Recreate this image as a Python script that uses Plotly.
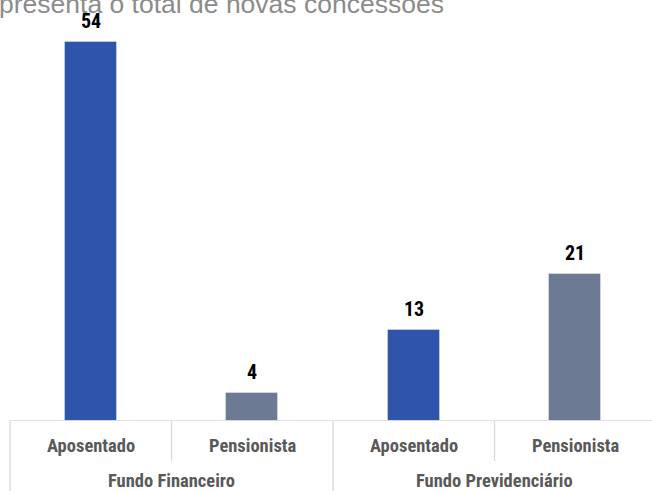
import plotly.graph_objects as go

groups = ["Fundo Financeiro", "Fundo Financeiro", "Fundo Previdenciário", "Fundo Previdenciário"]
categories = ["Aposentado", "Pensionista", "Aposentado", "Pensionista"]
values = [54, 4, 13, 21]
group_labels = ["Fundo Financeiro", "Fundo Previdenciário"]
title_text = "presenta o total de novas concessões"

blue = "#2f55ab"
grey = "#6d7a93"
colors = [blue if c == "Aposentado" else grey for c in categories]
xs = list(range(len(values)))
cond = "Roboto Condensed, Archivo Narrow, Liberation Sans"

fig = go.Figure()
fig.add_trace(go.Bar(
    x=xs, y=values, width=0.32,
    marker=dict(color=colors, line=dict(color="rgba(255,255,255,0.35)", width=1)),
    hoverinfo="skip",
))

ann = []
for x, v in zip(xs, values):
    ann.append(dict(x=x, y=v, xref="x", yref="y", text="<b>%d</b>" % v, showarrow=False,
                    yanchor="middle", yshift=21,
                    font=dict(family=cond, size=20, color="#000000")))
for x, c in zip(xs, categories):
    ann.append(dict(x=x, y=0, xref="x", yref="y", text="<b>%s</b>" % c, showarrow=False,
                    yanchor="middle", yshift=-25,
                    font=dict(family=cond, size=18.5, color="#595959")))
for gi, g in enumerate(group_labels):
    idx = [i for i, gg in enumerate(groups) if gg == g]
    cx = sum(idx) / len(idx)
    ann.append(dict(x=cx, y=0, xref="x", yref="y", text="<b>%s</b>" % g, showarrow=False,
                    yanchor="middle", yshift=-60,
                    font=dict(family=cond, size=18.5, color="#595959")))
ann.append(dict(x=0, y=1, xref="paper", yref="paper", text=title_text, showarrow=False,
                xanchor="left", yanchor="middle", xshift=-3, yshift=26,
                font=dict(family="Liberation Sans, Arial", size=26.5, color="#8c8c8c")))

line_col = "#d9d9d9"
shapes = [dict(type="line", xref="x", yref="y", x0=-0.5, x1=len(values) - 0.5, y0=0, y1=0,
               line=dict(color=line_col, width=1.3))]
for i in range(len(values) + 1):
    b = i - 0.5
    full = (i == 0) or (i == len(values)) or (groups[i - 1] != groups[i])
    shapes.append(dict(type="line", xref="x", yref="paper", x0=b, x1=b, y0=0,
                       y1=-0.2 if full else -0.102, line=dict(color=line_col, width=1.3)))

fig.update_layout(
    width=652, height=491,
    margin=dict(l=0, r=0, t=30, b=70),
    paper_bgcolor="white", plot_bgcolor="white",
    showlegend=False,
    xaxis=dict(range=[-0.562, 3.475], visible=False, fixedrange=True),
    yaxis=dict(range=[0, 55.7], visible=False, fixedrange=True),
    annotations=ann, shapes=shapes,
    bargap=0,
)
fig.write_html("out.html", config={"displayModeBar": False},
               post_script="document.body.style.margin='0';")
